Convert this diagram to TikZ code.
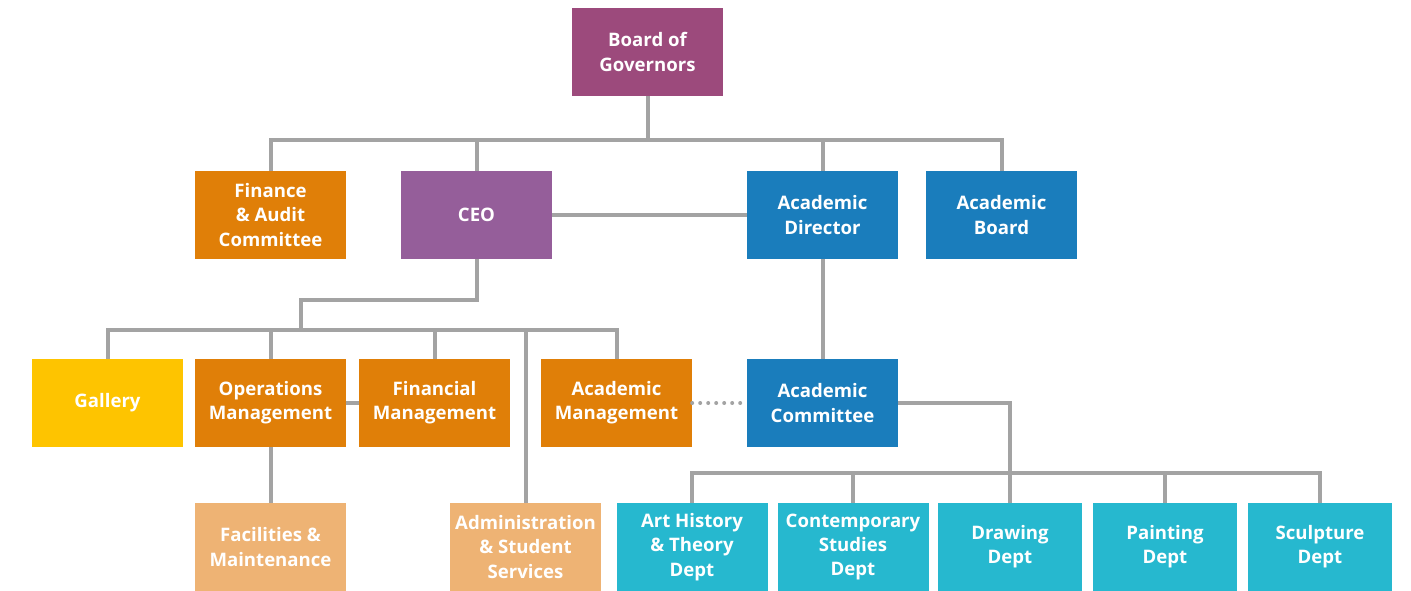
\documentclass[tikz,border=0pt]{standalone}
\usepackage{fontspec}
\setmainfont{Open Sans}

\definecolor{boardcol}{HTML}{9C4A7C}
\definecolor{ceocol}{HTML}{955E9A}
\definecolor{orangecol}{HTML}{E07F08}
\definecolor{paleorange}{HTML}{EEB374}
\definecolor{bluecol}{HTML}{1A7DBC}
\definecolor{cyancol}{HTML}{26B8CF}
\definecolor{gallerycol}{HTML}{FEC400}
\definecolor{linegray}{HTML}{A3A3A3}

\tikzset{
  unit/.style={rectangle, minimum width=151pt, minimum height=88pt, inner sep=0pt,
    align=center, text=white, font=\fontsize{18.6}{24.2}\selectfont\bfseries},
  dept/.style={unit, fill=cyancol},
  link/.style={draw=linegray, line width=4pt},
  dots/.style={draw=linegray, line width=4pt, line cap=round, dash pattern=on 0pt off 8pt}
}

\begin{document}
\begin{tikzpicture}[x=1pt, y=-1pt]
  \useasboundingbox (0,0) rectangle (1411,590);

  % Top: governors and the units reporting to them
  \node[unit, fill=boardcol] (board) at (647.5,52) {Board of\\Governors};
  \node[unit, fill=orangecol] (fac) at (270.5,215) {Finance\\\& Audit\\Committee};
  \node[unit, fill=ceocol] (ceo) at (476.5,215) {CEO};
  \node[unit, fill=bluecol] (acdir) at (822.5,215) {Academic\\Director};
  \node[unit, fill=bluecol] (acboard) at (1001.5,215) {Academic\\Board};

  % Management level
  \node[unit, fill=gallerycol] (gallery) at (107.5,403) {Gallery};
  \node[unit, fill=orangecol] (ops) at (270.5,403) {Operations\\Management};
  \node[unit, fill=orangecol] (finman) at (434.5,403) {Financial\\Management};
  \node[unit, fill=orangecol] (acman) at (616.5,403) {Academic\\Management};
  \node[unit, fill=bluecol] (accom) at (822.5,403) {Academic\\Committee};

  % Services and departments
  \node[unit, fill=paleorange] (facil) at (270.5,547) {Facilities \&\\Maintenance};
  \node[unit, fill=paleorange] (admin) at (525.5,547) {Administration\\\& Student\\Services};
  \node[dept] (arthist) at (692,547) {Art History\\\& Theory\\Dept};
  \node[dept] (contemp) at (853,547) {Contemporary\\Studies\\Dept};
  \node[dept, minimum width=144pt] (drawing) at (1010,547) {Drawing\\Dept};
  \node[dept, minimum width=144pt] (painting) at (1165,547) {Painting\\Dept};
  \node[dept, minimum width=144pt] (sculpt) at (1320,547) {Sculpture\\Dept};

  % Bus lines
  \coordinate (govbus) at (647.5,140);
  \coordinate (ceojog) at (301,300);
  \coordinate (ceobus) at (301,330);
  \coordinate (deptbus) at (1010,473);

  % Board of Governors down to the second row
  \draw[link] (board.south) -- (govbus);
  \foreach \n in {fac, ceo, acdir, acboard}
    \draw[link] (\n.north) |- (govbus);
  \draw[link] (ceo.east) -- (acdir.west);

  % CEO down to management
  \draw[link] (ceo.south) |- (ceojog) -- (ceobus);
  \foreach \n in {gallery, ops, finman, acman, admin}
    \draw[link] (\n.north) |- (ceobus);
  \draw[link] (ops.east) -- (finman.west);
  \draw[link] (ops.south) -- (facil.north);

  % Academic side
  \draw[link] (acdir.south) -- (accom.north);
  \draw[dots] (acman.east) -- (accom.west);
  \draw[link] (accom.east) -| (deptbus);
  \foreach \n in {arthist, contemp, drawing, painting, sculpt}
    \draw[link] (\n.north) |- (deptbus);
\end{tikzpicture}
\end{document}
